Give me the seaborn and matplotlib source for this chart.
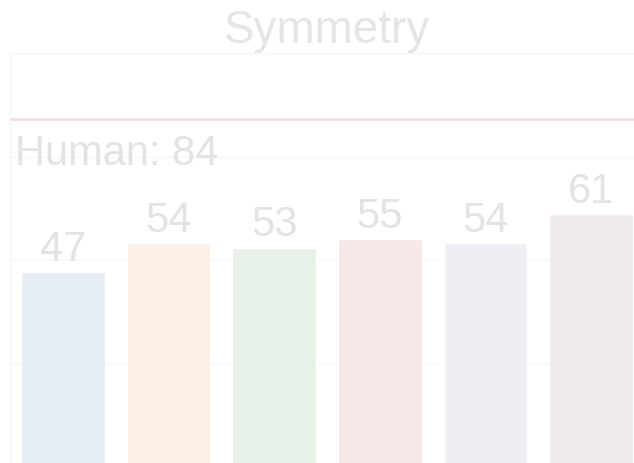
import matplotlib
matplotlib.use("Agg")
import matplotlib.pyplot as plt
import seaborn as sns
import pandas as pd

# Scores per model on the "Symmetry" task
models = ["Model A", "Model B", "Model C", "Model D", "Model E", "Model F"]
scores = [47, 54, 53, 55, 54, 61]
human_score = 84
bar_colors = ["#e6edf4", "#fbefe6", "#e7f1e7", "#f7e7e7", "#f0eef5", "#f0ebea"]

text_color = "#e3e3e3"
grid_color = "#f7f7f7"
human_color = "#f4dede"

sns.set_theme(style="whitegrid")
plt.rcParams["font.family"] = ["Liberation Sans", "DejaVu Sans"]

df = pd.DataFrame({"model": models, "score": scores})

fig = plt.figure(figsize=(6.34, 4.63), dpi=100)
ax = fig.add_axes([10 / 634, -4 / 463, 634 / 634, 414 / 463])

sns.barplot(data=df, x="model", y="score", hue="model", palette=bar_colors,
            legend=False, width=0.79, saturation=1, ax=ax)

ax.set_ylim(0, 100)
ax.set_xlim(-0.5, 5.5)
ax.set_yticks([0, 25, 50, 75, 100])
ax.grid(axis="y", color=grid_color, linewidth=1)
ax.grid(axis="x", visible=False)
for side, spine in ax.spines.items():
    spine.set_color("#f6f6f6")
    spine.set_linewidth(1)
ax.spines["right"].set_visible(False)
ax.set_xlabel("")
ax.set_ylabel("")
ax.set_xticklabels([])
ax.set_yticklabels([])
ax.tick_params(length=0)

for container in ax.containers:
    ax.bar_label(container, fmt="%d", padding=1.5, fontsize=30, color=text_color)

ax.axhline(human_score, color=human_color, linewidth=2, zorder=3)
ax.text(-0.45, human_score - 3.5, f"Human: {human_score}", ha="left", va="top",
        fontsize=30, color=text_color)

ax.set_title("Symmetry", fontsize=33, color="#e5e5e5", pad=1)

fig.savefig("out.png", dpi=100)
